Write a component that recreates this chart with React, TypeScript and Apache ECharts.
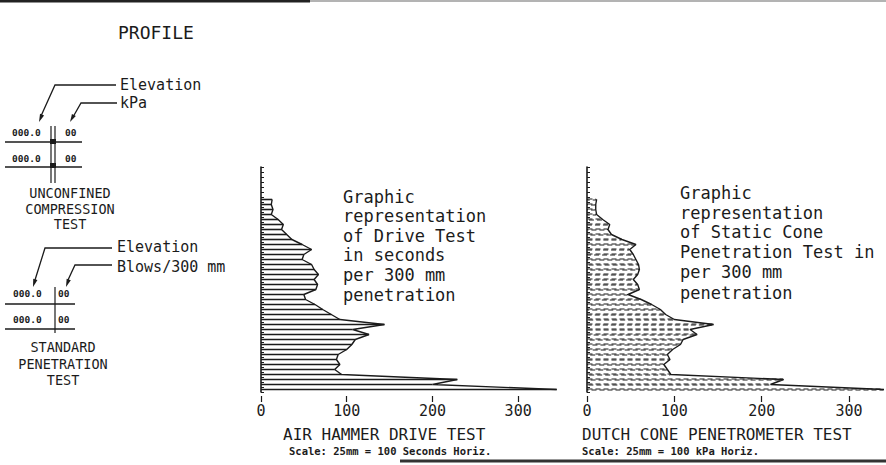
import React, { useEffect, useRef } from 'react';
import * as echarts from 'echarts';

const levels = [
  "1", "2", "3", "4", "5", "6", "7", "8", "9", "10",
  "11", "12", "13", "14", "15", "16", "17", "18", "19", "20",
  "21", "22", "23", "24", "25", "26", "27", "28", "29", "30",
  "31", "32", "33", "34", "35", "36", "37", "38", "39", "40",
  "41", "42", "43", "44", "45",
];

// Air hammer drive test, seconds per 300 mm (top of profile first)
const driveSeconds = [
  null, null, null, null, null, null,
  13, 12, 14, 12, 20, 26, 24, 30, 36, 48,
  59, 50, 48, 59, 62, 67, 62, 66, 64, 50,
  52, 63, 72, 82, 92, 144, 107, 126, 110, 106,
  100, 90, 88, 92, 86, 94, 229, 200, 345,
];

// Dutch cone penetrometer test, kPa (top of profile first)
const coneKpa = [
  null, null, null, null, null, null,
  11, 10, 10, 11, 18, 26, 24, 28, 40, 56,
  49, 53, 56, 59, 60, 58, 53, 58, 60, 47,
  62, 74, 84, 90, 100, 145, 118, 126, 110, 107,
  98, 92, 95, 88, 92, 96, 225, 210, 340,
];

const xTickValues = [0, 100, 200, 300];
const xTickLabels = ["0", "100", "200", "300"];

const INK = '#1b1b1b';
const MONO = '"DejaVu Sans Mono", monospace';

function txt(text: string, x: number, y: number, size: number, extra: any = {}) {
  return {
    type: 'text', x, y, silent: true,
    style: {
      text, fontSize: size, fontFamily: MONO, fill: INK,
      align: extra.align || 'left', verticalAlign: 'middle',
      fontWeight: extra.weight || 'normal',
    },
  };
}
function pl(points: number[][], w = 1.3, color = INK) {
  return { type: 'polyline', silent: true, shape: { points }, style: { stroke: color, lineWidth: w, fill: null } };
}
function arrow(x1: number, y1: number, x2: number, y2: number) {
  const dx = x2 - x1, dy = y2 - y1;
  const L = Math.hypot(dx, dy);
  const ux = dx / L, uy = dy / L;
  const bx = x2 - ux * 8, by = y2 - uy * 8;
  return {
    type: 'polygon', silent: true,
    shape: { points: [[x2, y2], [bx - uy * 2.2, by + ux * 2.2], [bx + uy * 2.2, by - ux * 2.2]] },
    style: { fill: INK },
  };
}

export default function App() {
  const ref = useRef<HTMLDivElement>(null);
  useEffect(() => {
    const chart = echarts.init(ref.current!, null, { renderer: 'svg' });

    const xAxis = (gridIndex: number, max: number) => ({
      type: 'value', gridIndex, min: 0, max, interval: 100, offset: 4,
      splitLine: { show: false },
      axisLine: { show: false },
      axisTick: { show: true, length: 6, customValues: xTickValues, lineStyle: { color: INK, width: 1.2 } },
      axisLabel: {
        color: INK, fontFamily: MONO, fontSize: 15, margin: 7, customValues: xTickValues,
        formatter: (v: number) => { const i = xTickValues.indexOf(v); return i >= 0 ? xTickLabels[i] : ''; },
      },
    });
    const yAxis = (gridIndex: number) => ({
      type: 'category', gridIndex, data: levels, inverse: true,
      axisLine: { show: true, onZero: false, lineStyle: { color: INK, width: 1.6 } },
      axisTick: { show: true, inside: true, length: 3, interval: 0, lineStyle: { color: INK, width: 1 } },
      axisLabel: { show: false },
      splitLine: { show: false },
    });

    const graphic: any[] = [
      // sheet border lines
      { type: 'line', silent: true, shape: { x1: 0, y1: 1, x2: 310, y2: 1 }, style: { stroke: '#222', lineWidth: 3 } },
      { type: 'line', silent: true, shape: { x1: 310, y1: 1, x2: 886, y2: 1 }, style: { stroke: '#9a9a9a', lineWidth: 1.5 } },
      { type: 'line', silent: true, shape: { x1: 400, y1: 461, x2: 886, y2: 461 }, style: { stroke: '#333', lineWidth: 3 } },
      txt('PROFILE', 118, 32, 18),

      // Unconfined compression legend
      txt('Elevation', 120, 85, 15),
      txt('kPa', 120, 103, 15),
      pl([[116, 85], [55, 85], [41, 116]]),
      arrow(44, 110, 39, 122),
      pl([[117, 103], [81, 103], [73, 117]]),
      arrow(75, 113, 70, 122),
      txt('000.0', 12, 132, 9.5, { weight: 'bold' }),
      txt('00', 65, 132, 9.5, { weight: 'bold' }),
      txt('000.0', 12, 158, 9.5, { weight: 'bold' }),
      txt('00', 65, 158, 9.5, { weight: 'bold' }),
      pl([[5, 142], [82, 142]], 1.6),
      pl([[5, 167], [82, 167]], 1.6),
      pl([[51, 126], [51, 183]], 1.2),
      pl([[55, 126], [55, 183]], 1.2),
      { type: 'rect', silent: true, shape: { x: 50, y: 139, width: 6, height: 5 }, style: { fill: INK } },
      { type: 'rect', silent: true, shape: { x: 50, y: 163, width: 6, height: 5 }, style: { fill: INK } },
      txt('UNCONFINED', 70, 193, 13.5, { align: 'center' }),
      txt('COMPRESSION', 70, 208.5, 13.5, { align: 'center' }),
      txt('TEST', 70, 224, 13.5, { align: 'center' }),

      // Standard penetration legend
      txt('Elevation', 117, 247, 15),
      txt('Blows/300 mm', 117, 267, 15),
      pl([[112, 248], [45, 248], [35, 280]]),
      arrow(37, 274, 33, 287),
      pl([[112, 265], [75, 265], [68, 280]]),
      arrow(70, 276, 66, 287),
      txt('000.0', 13, 293, 9.5, { weight: 'bold' }),
      txt('00', 58, 293, 9.5, { weight: 'bold' }),
      txt('000.0', 13, 319, 9.5, { weight: 'bold' }),
      txt('00', 58, 319, 9.5, { weight: 'bold' }),
      pl([[5, 304], [75, 304]], 1.6),
      pl([[5, 329], [75, 329]], 1.6),
      pl([[55, 287], [55, 333]], 1.2),
      txt('STANDARD', 63, 347, 13.5, { align: 'center' }),
      txt('PENETRATION', 63, 363.5, 13.5, { align: 'center' }),
      txt('TEST', 63, 380, 13.5, { align: 'center' }),

      // annotations inside charts
      txt('Graphic', 343, 197, 17),
      txt('representation', 343, 216, 17),
      txt('of Drive Test', 343, 236, 17),
      txt('in seconds', 343, 255, 17),
      txt('per 300 mm', 343, 275, 17),
      txt('penetration', 343, 295, 17),

      txt('Graphic', 680, 193, 17),
      txt('representation', 680, 213, 17),
      txt('of Static Cone', 680, 232, 17),
      txt('Penetration Test in', 680, 252, 17),
      txt('per 300 mm', 680, 272, 17),
      txt('penetration', 680, 293, 17),

      // titles under charts
      txt('AIR HAMMER DRIVE TEST', 283, 434, 16),
      txt('Scale: 25mm = 100 Seconds Horiz.', 289, 451, 10.5, { weight: 'bold' }),
      txt('DUTCH CONE PENETROMETER TEST', 582, 434, 16),
      txt('Scale: 25mm = 100 kPa Horiz.', 582, 451, 10.5, { weight: 'bold' }),
    ];

    chart.setOption({
      animation: false,
      backgroundColor: '#ffffff',
      grid: [
        { left: 261, top: 167, width: 300, height: 225 },
        { left: 587, top: 167, width: 297, height: 225 },
      ],
      xAxis: [xAxis(0, 350), xAxis(1, 340)],
      yAxis: [yAxis(0), yAxis(1)],
      series: [
        {
          type: 'bar', xAxisIndex: 0, yAxisIndex: 0, data: driveSeconds,
          barWidth: 1.6, itemStyle: { color: INK }, silent: true,
        },
        {
          type: 'line', xAxisIndex: 0, yAxisIndex: 0, data: driveSeconds,
          symbol: 'none', lineStyle: { color: INK, width: 1.4 }, silent: true,
        },
        {
          type: 'bar', xAxisIndex: 1, yAxisIndex: 1, data: coneKpa,
          barWidth: 2,
          itemStyle: { color: 'rgba(0,0,0,0)', borderColor: INK, borderWidth: 1, borderType: [5, 3] },
          silent: true,
        },
        {
          type: 'line', xAxisIndex: 1, yAxisIndex: 1, data: coneKpa,
          symbol: 'none', lineStyle: { color: INK, width: 1.4 }, silent: true,
        },
      ],
      graphic,
    });
    return () => chart.dispose();
  }, []);
  return (
    <div
      ref={ref}
      style={{ position: 'fixed', left: 0, top: 0, width: 886, height: 465, background: '#fff' }}
    />
  );
}
